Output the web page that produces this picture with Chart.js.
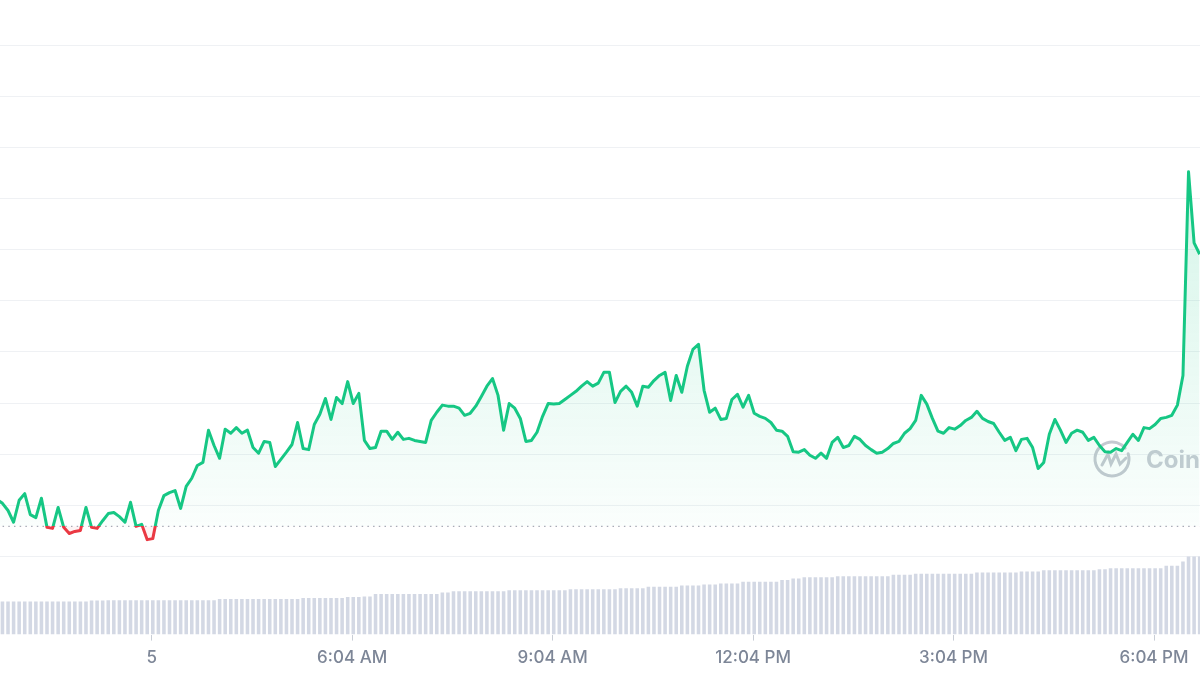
<!DOCTYPE html>
<html>
<head>
<meta charset="utf-8">
<script src="https://cdn.jsdelivr.net/npm/chart.js@4.4.1/dist/chart.umd.min.js"></script>
<style>
  html, body { margin: 0; padding: 0; background: #ffffff; }
  #wrap { width: 1200px; height: 675px; position: relative; }
</style>
</head>
<body>
<div id="wrap"><canvas id="price-chart"></canvas></div>
<script>
// minutes after midnight, one point every 5 minutes
const startMinute = 45;
const stepMinutes = 5;

const prices = [
    1.12, 1.04, 0.90, 0.67, 1.10, 1.23, 0.82, 0.76, 1.14, 0.57,
    0.55, 0.96, 0.57, 0.45, 0.49, 0.51, 0.96, 0.57, 0.55, 0.70,
    0.84, 0.86, 0.78, 0.67, 1.06, 0.59, 0.63, 0.33, 0.35, 0.90,
    1.19, 1.25, 1.29, 0.94, 1.37, 1.53, 1.78, 1.84, 2.47, 2.17,
    1.92, 2.49, 2.41, 2.52, 2.41, 2.47, 2.13, 2.02, 2.25, 2.23,
    1.76, 1.90, 2.04, 2.19, 2.62, 2.11, 2.09, 2.58, 2.78, 3.09,
    2.68, 3.11, 2.99, 3.42, 2.99, 3.19, 2.27, 2.11, 2.13, 2.45,
    2.45, 2.29, 2.43, 2.29, 2.31, 2.27, 2.25, 2.23, 2.66, 2.82,
    2.96, 2.94, 2.94, 2.90, 2.76, 2.80, 2.94, 3.13, 3.33, 3.48,
    3.15, 2.47, 2.99, 2.90, 2.70, 2.25, 2.27, 2.43, 2.74, 2.99,
    2.98, 2.99, 3.07, 3.15, 3.23, 3.33, 3.42, 3.33, 3.39, 3.60,
    3.60, 3.01, 3.23, 3.33, 3.21, 2.94, 3.33, 3.31, 3.44, 3.54,
    3.60, 3.05, 3.54, 3.21, 3.72, 4.05, 4.15, 3.25, 2.82, 2.90,
    2.68, 2.70, 3.07, 3.17, 2.92, 3.15, 2.80, 2.74, 2.70, 2.62,
    2.47, 2.45, 2.35, 2.05, 2.04, 2.09, 1.98, 1.92, 2.02, 1.92,
    2.23, 2.33, 2.13, 2.17, 2.35, 2.29, 2.17, 2.09, 2.02, 2.04,
    2.11, 2.21, 2.25, 2.41, 2.50, 2.66, 3.15, 2.98, 2.70, 2.45,
    2.41, 2.52, 2.49, 2.56, 2.66, 2.72, 2.84, 2.70, 2.64, 2.60,
    2.43, 2.27, 2.33, 2.07, 2.29, 2.31, 2.13, 1.72, 1.84, 2.39,
    2.68, 2.47, 2.23, 2.41, 2.47, 2.43, 2.27, 2.33, 2.17, 2.05,
    2.04, 2.11, 2.07, 2.23, 2.39, 2.27, 2.52, 2.50, 2.58, 2.70,
    2.72, 2.76, 2.96, 3.54, 7.52, 6.13, 5.91
];

const volumes = [
    3.30, 3.30, 3.30, 3.30, 3.30, 3.30, 3.30, 3.30, 3.30, 3.30,
    3.30, 3.30, 3.30, 3.30, 3.30, 3.30, 3.30, 3.40, 3.40, 3.40,
    3.43, 3.43, 3.43, 3.43, 3.43, 3.43, 3.43, 3.43, 3.43, 3.43,
    3.43, 3.43, 3.43, 3.43, 3.43, 3.43, 3.43, 3.43, 3.43, 3.43,
    3.55, 3.55, 3.55, 3.55, 3.55, 3.55, 3.55, 3.55, 3.55, 3.55,
    3.55, 3.55, 3.55, 3.55, 3.55, 3.65, 3.65, 3.65, 3.65, 3.65,
    3.65, 3.65, 3.65, 3.75, 3.75, 3.75, 3.80, 3.80, 4.06, 4.06,
    4.06, 4.06, 4.06, 4.06, 4.06, 4.06, 4.06, 4.06, 4.06, 4.06,
    4.20, 4.20, 4.33, 4.33, 4.33, 4.33, 4.33, 4.33, 4.33, 4.33,
    4.33, 4.33, 4.43, 4.43, 4.43, 4.43, 4.43, 4.43, 4.43, 4.43,
    4.43, 4.43, 4.43, 4.53, 4.53, 4.53, 4.53, 4.53, 4.53, 4.53,
    4.53, 4.53, 4.63, 4.63, 4.63, 4.63, 4.63, 4.77, 4.77, 4.77,
    4.77, 4.77, 4.77, 4.90, 4.90, 4.90, 4.90, 5.00, 5.00, 5.00,
    5.10, 5.10, 5.10, 5.10, 5.27, 5.27, 5.27, 5.27, 5.27, 5.27,
    5.27, 5.45, 5.45, 5.60, 5.60, 5.73, 5.73, 5.73, 5.73, 5.73,
    5.73, 5.83, 5.83, 5.83, 5.83, 5.83, 5.83, 5.83, 5.83, 5.83,
    5.83, 5.97, 5.97, 5.97, 5.97, 6.07, 6.07, 6.07, 6.07, 6.07,
    6.07, 6.07, 6.07, 6.07, 6.07, 6.07, 6.20, 6.20, 6.20, 6.20,
    6.20, 6.20, 6.20, 6.20, 6.30, 6.30, 6.30, 6.30, 6.43, 6.43,
    6.43, 6.43, 6.43, 6.43, 6.43, 6.43, 6.43, 6.43, 6.53, 6.53,
    6.63, 6.63, 6.63, 6.63, 6.63, 6.63, 6.63, 6.63, 6.63, 6.63,
    6.87, 6.87, 6.87, 7.30, 7.80, 7.80, 7.80
];

const openPrice = 0.59;
const gridLevels = [0, 1, 2, 3, 4, 5, 6, 7, 8, 9, 10];
const xTickMinutes = [184, 364, 544, 724, 904, 1084];
const xTickLabels = ['5', '6:04 AM', '9:04 AM', '12:04 PM', '3:04 PM', '6:04 PM'];

const times = prices.map((p, i) => startMinute + i * stepMinutes);

const green = '#16c784';
const red = '#ea3943';

function lineColor(context) {
    const chart = context.chart;
    const area = chart.chartArea;
    if (!area) return green;
    const basePx = chart.scales.y.getPixelForValue(openPrice);
    const stop = Math.min(1, Math.max(0, (basePx - area.top) / (area.bottom - area.top)));
    const g = chart.ctx.createLinearGradient(0, area.top, 0, area.bottom);
    g.addColorStop(0, green);
    g.addColorStop(stop, green);
    g.addColorStop(stop, red);
    g.addColorStop(1, red);
    return g;
}

function fillColor(context) {
    const chart = context.chart;
    const area = chart.chartArea;
    if (!area) return 'rgba(22,199,132,0.1)';
    const basePx = chart.scales.y.getPixelForValue(openPrice);
    const g = chart.ctx.createLinearGradient(0, area.top, 0, basePx);
    g.addColorStop(0, 'rgba(22,199,132,0.24)');
    g.addColorStop(1, 'rgba(22,199,132,0.02)');
    return g;
}

// faint CoinMarketCap watermark behind the line
const watermark = {
    id: 'watermark',
    beforeDatasetsDraw(chart) {
        const ctx = chart.ctx;
        const area = chart.chartArea;
        const cx = area.right - 88;
        const cy = area.top + 414;
        ctx.save();
        ctx.strokeStyle = '#c5c9d1';
        ctx.lineWidth = 3;
        ctx.lineCap = 'round';
        ctx.beginPath();
        ctx.arc(cx, cy, 17, -0.1 * Math.PI, 1.78 * Math.PI);
        ctx.stroke();
        ctx.beginPath();
        ctx.moveTo(cx - 10, cy + 6);
        ctx.lineTo(cx - 4, cy - 5);
        ctx.lineTo(cx - 1, cy + 5);
        ctx.lineTo(cx + 4, cy - 5);
        ctx.lineTo(cx + 8, cy + 5);
        ctx.lineTo(cx + 14, cy - 1);
        ctx.stroke();
        ctx.fillStyle = '#c8ccd4';
        ctx.font = 'bold 24px Inter';
        ctx.textBaseline = 'middle';
        ctx.fillText('CoinMarketCap', cx + 34, cy + 2);
        ctx.restore();
    }
};

const ctx = document.getElementById('price-chart').getContext('2d');

new Chart(ctx, {
    type: 'line',
    data: {
        datasets: [
            {
                label: 'Price',
                data: times.map((t, i) => ({ x: t, y: prices[i] })),
                borderColor: lineColor,
                backgroundColor: fillColor,
                borderWidth: 3,
                borderJoinStyle: 'round',
                pointRadius: 0,
                tension: 0,
                fill: { value: openPrice, below: 'rgba(234,57,67,0.06)' },
                yAxisID: 'y',
                order: 0
            },
            {
                label: 'Open',
                data: [{ x: times[0], y: openPrice }, { x: times[times.length - 1], y: openPrice }],
                borderColor: '#a7adb8',
                borderWidth: 1.2,
                borderDash: [1.5, 4.2],
                pointRadius: 0,
                fill: false,
                yAxisID: 'y',
                order: 1
            },
            {
                type: 'bar',
                label: 'Volume',
                data: times.map((t, i) => ({ x: t, y: volumes[i] })),
                backgroundColor: '#d3d8e4',
                borderWidth: 0,
                barPercentage: 1,
                categoryPercentage: 0.64,
                yAxisID: 'yv',
                order: 2
            }
        ]
    },
    options: {
        responsive: true,
        maintainAspectRatio: false,
        animation: false,
        layout: { padding: { top: 45, left: 0, right: 0, bottom: 0 } },
        plugins: {
            legend: { display: false },
            tooltip: { enabled: false }
        },
        scales: {
            x: {
                type: 'linear',
                min: 47.8,
                max: 1125.3,
                offset: false,
                afterBuildTicks: scale => {
                    scale.ticks = xTickMinutes.map(v => ({ value: v }));
                },
                grid: {
                    offset: false,
                    drawOnChartArea: false,
                    drawTicks: true,
                    tickLength: 6,
                    color: '#c9ced6'
                },
                border: { display: false },
                ticks: {
                    autoSkip: false,
                    maxRotation: 0,
                    padding: 7,
                    color: '#7d8697',
                    font: { family: 'Inter', size: 17, weight: 500 },
                    callback: (value, index) => xTickLabels[index]
                }
            },
            y: {
                position: 'left',
                min: -1.5264,
                max: 10,
                afterBuildTicks: scale => {
                    scale.ticks = gridLevels.map(v => ({ value: v }));
                },
                afterFit: scale => { scale.width = 0; },
                grid: { color: '#eff1f4', lineWidth: 1, drawTicks: false },
                border: { display: false },
                ticks: { display: false }
            },
            yv: {
                position: 'right',
                display: false,
                min: 0,
                max: 58.9
            }
        }
    },
    plugins: [watermark]
});
</script>
</body>
</html>
